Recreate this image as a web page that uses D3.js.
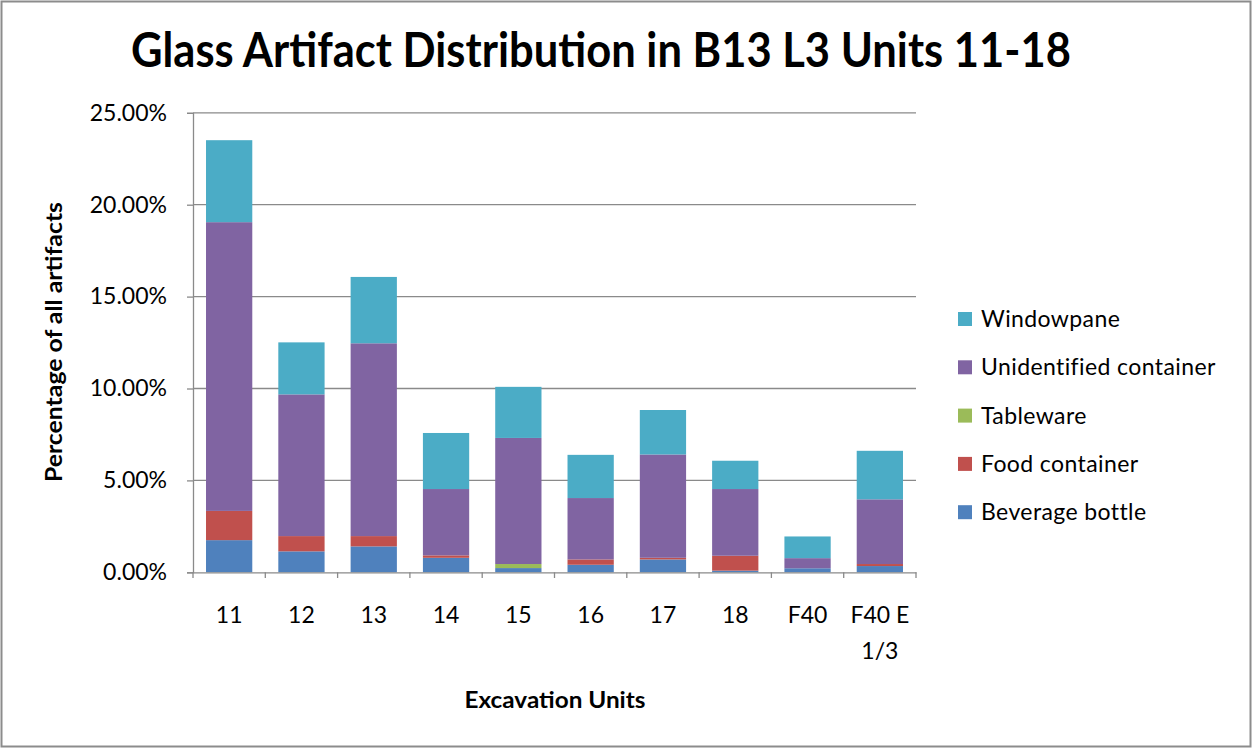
<!DOCTYPE html>
<html>
<head>
<meta charset="utf-8">
<script src="https://cdn.jsdelivr.net/npm/d3@7"></script>
<style>
  body { margin: 0; background: #fff; }
  text { font-family: Lato, "Open Sans", sans-serif; fill: #000; }
</style>
</head>
<body>
<div id="chart"></div>
<script>
// Chart values (percent of all artifacts)
var units = ["11", "12", "13", "14", "15", "16", "17", "18", "F40", "F40 E 1/3"];
var beverageBottle = [1.75, 1.14, 1.41, 0.79, 0.23, 0.41, 0.70, 0.09, 0.22, 0.34];
var foodContainer = [1.59, 0.83, 0.56, 0.13, 0.00, 0.29, 0.09, 0.81, 0.00, 0.11];
var tableware = [0, 0, 0, 0, 0.22, 0, 0, 0, 0, 0];
var unidentifiedContainer = [15.71, 7.71, 10.49, 3.61, 6.86, 3.34, 5.62, 3.63, 0.55, 3.52];
var windowpane = [4.46, 2.83, 3.61, 3.05, 2.78, 2.35, 2.42, 1.54, 1.18, 2.64];
var seriesNames = ["Beverage bottle", "Food container", "Tableware", "Unidentified container", "Windowpane"];
var yTicks = [0, 5, 10, 15, 20, 25];

var colors = ["#4F81BD", "#C0504D", "#9BBB59", "#8064A2", "#4BACC6"];

var width = 1252;
var height = 748;

// Build rows for the stack
var allSeries = [beverageBottle, foodContainer, tableware, unidentifiedContainer, windowpane];
var rows = units.map(function(u, i) {
    var row = { unit: u };
    seriesNames.forEach(function(name, s) { row[name] = allSeries[s][i]; });
    return row;
});
var stacked = d3.stack().keys(seriesNames)(rows);

var svg = d3.select("#chart")
    .append("svg")
    .attr("width", width)
    .attr("height", height);

// outer frame
svg.append("rect")
    .attr("x", 1.5).attr("y", 1.5)
    .attr("width", width - 3).attr("height", height - 3)
    .attr("fill", "#fff")
    .attr("stroke", "#8c8c8c")
    .attr("stroke-width", 2);

var x = d3.scaleBand()
    .domain(units)
    .range([193, 916])
    .paddingInner(0.36)
    .paddingOuter(0.18);

var y = d3.scaleLinear()
    .domain([0, 25])
    .range([572.3, 112.8]);

// gridlines
svg.append("g")
    .selectAll("line")
    .data(yTicks.slice(1))
    .enter()
    .append("line")
    .attr("x1", 193).attr("x2", 916)
    .attr("y1", function(d) { return y(d); })
    .attr("y2", function(d) { return y(d); })
    .attr("stroke", "#8a8a8a")
    .attr("stroke-width", 1.3);

// bars
svg.append("g")
    .selectAll("g")
    .data(stacked)
    .enter()
    .append("g")
    .attr("fill", function(d, i) { return colors[i]; })
    .selectAll("rect")
    .data(function(d) { return d; })
    .enter()
    .append("rect")
    .attr("x", function(d) { return x(d.data.unit); })
    .attr("width", x.bandwidth())
    .attr("y", function(d) { return y(d[1]); })
    .attr("height", function(d) { return y(d[0]) - y(d[1]); });

// y axis
var yAxis = svg.append("g")
    .attr("transform", "translate(193,0)")
    .call(d3.axisLeft(y)
        .tickValues(yTicks)
        .tickSize(6)
        .tickPadding(20)
        .tickFormat(function(d) { return d3.format(".2f")(d) + "%"; }));
yAxis.select(".domain").attr("stroke", "#8a8a8a").attr("stroke-width", 1.3);
yAxis.selectAll(".tick line").attr("stroke", "#8a8a8a").attr("stroke-width", 1.3);
yAxis.selectAll(".tick text")
    .style("font-size", "23px")
    .attr("fill", "#222");

// x axis
var xAxis = svg.append("g")
    .attr("transform", "translate(0,572.3)")
    .call(d3.axisBottom(x).tickSize(0).tickPadding(0));
xAxis.select(".domain").attr("stroke", "#8a8a8a").attr("stroke-width", 1.3);
xAxis.selectAll(".tick text").remove();
xAxis.selectAll(".tick").each(function(d) {
    var words = d.split(" ");
    var lines = [];
    var cur = "";
    words.forEach(function(w) {
        var test = cur ? cur + " " + w : w;
        if (test.length > 5 && cur) { lines.push(cur); cur = w; }
        else { cur = test; }
    });
    lines.push(cur);
    var t = d3.select(this).append("text")
        .attr("text-anchor", "middle")
        .style("font-size", "23px")
        .attr("fill", "#222");
    lines.forEach(function(l, k) {
        t.append("tspan").attr("x", 0).attr("y", 51 + k * 36).text(l);
    });
});
// tick marks between categories
svg.append("g")
    .selectAll("line")
    .data(d3.range(units.length + 1))
    .enter()
    .append("line")
    .attr("x1", function(i) { return 193 + i * x.step(); })
    .attr("x2", function(i) { return 193 + i * x.step(); })
    .attr("y1", 572.3).attr("y2", 578)
    .attr("stroke", "#8a8a8a")
    .attr("stroke-width", 1.3);

// title
svg.append("text")
    .attr("x", 601).attr("y", 67)
    .attr("text-anchor", "middle")
    .attr("textLength", 940)
    .attr("lengthAdjust", "spacingAndGlyphs")
    .style("font-size", "48px")
    .style("font-weight", "bold")
    .text("Glass Artifact Distribution in B13 L3 Units 11-18");

// axis titles
svg.append("text")
    .attr("transform", "translate(62,342) rotate(-90)")
    .attr("text-anchor", "middle")
    .attr("textLength", 280)
    .attr("lengthAdjust", "spacingAndGlyphs")
    .style("font-size", "23px")
    .style("font-weight", "bold")
    .text("Percentage of all artifacts");

svg.append("text")
    .attr("x", 555).attr("y", 708)
    .attr("text-anchor", "middle")
    .attr("textLength", 181)
    .attr("lengthAdjust", "spacingAndGlyphs")
    .style("font-size", "23px")
    .style("font-weight", "bold")
    .text("Excavation Units");

// legend (top series first)
var legend = svg.append("g")
    .selectAll("g")
    .data(seriesNames.slice().reverse())
    .enter()
    .append("g")
    .attr("transform", function(d, i) { return "translate(958," + (312 + i * 48.3) + ")"; });
legend.append("rect")
    .attr("width", 14).attr("height", 14)
    .attr("fill", function(d) { return colors[seriesNames.indexOf(d)]; });
legend.append("text")
    .attr("x", 23).attr("y", 15)
    .style("font-size", "23px")
    .style("letter-spacing", "0.4px")
    .attr("fill", "#222")
    .text(function(d) { return d; });
</script>
</body>
</html>
